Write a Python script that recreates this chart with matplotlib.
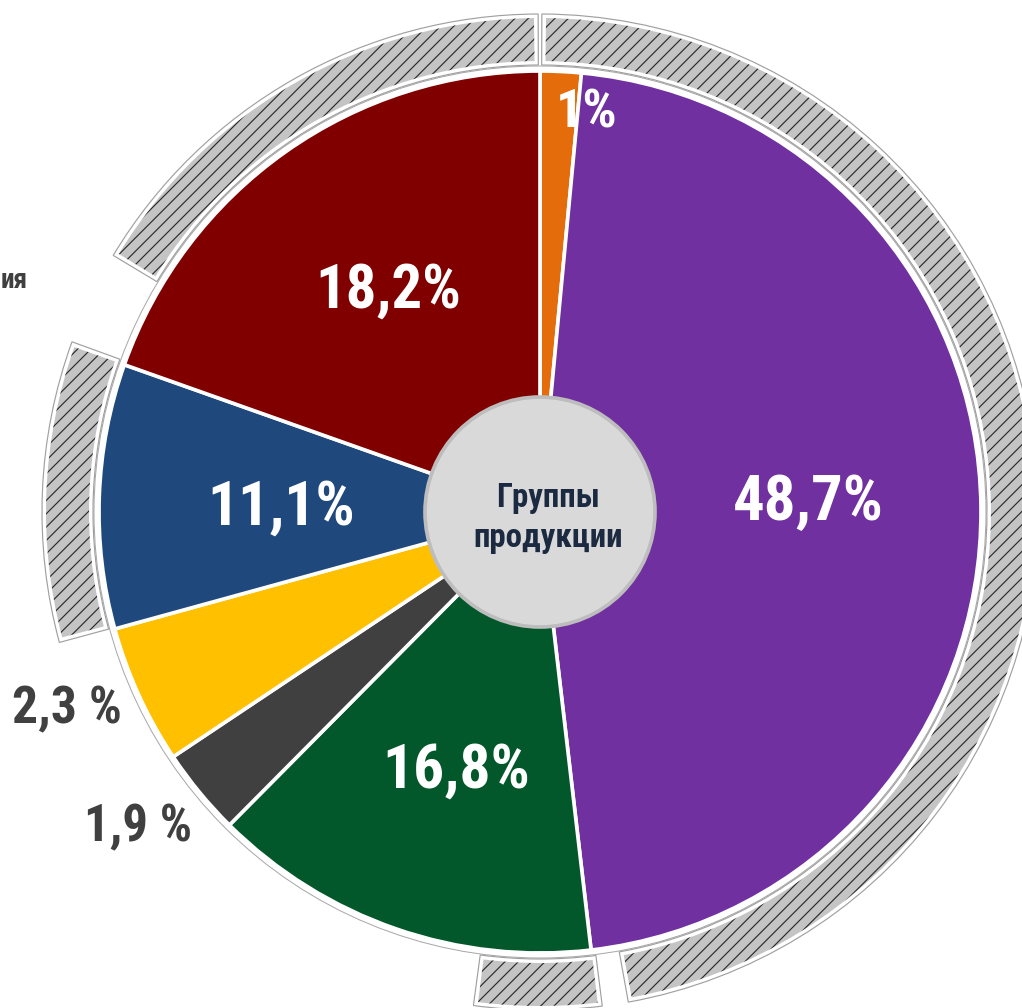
import matplotlib
matplotlib.use("Agg")
import matplotlib.pyplot as plt
from matplotlib.patches import Wedge, Circle
from matplotlib import font_manager as fm
import numpy as np

# ---- data (clockwise from 12 o'clock) ----
shares = [1.5, 46.7, 14.3, 3.2, 5.1, 9.7, 19.6]
share_labels = ["1%", "48,7%", "16,8%", "1,9 %", "2,3 %", "11,1%", "18,2%"]
colors = ["#E46C0A", "#7030A0", "#03582B", "#404040", "#FFC000", "#1F497D", "#800000"]

# outer hatched ring segments, degrees clockwise from 12 o'clock
ring_start = [0.7, 173.3, 255.3, 301.5]
ring_end = [169.3, 187.2, 289.5, 359.3]

center_text = "Группы\nпродукции"
cut_label = "ия"

# pick a narrow face if one is installed, else an Arial-like one
available = {f.name for f in fm.fontManager.ttflist}
main_font = "Liberation Sans"
for cand in ["Liberation Sans Narrow", "Arial Narrow", "DejaVu Sans Condensed",
             "Roboto Condensed", "Open Sans Condensed"]:
    if cand in available:
        main_font = cand
        break
FONT = [main_font, "DejaVu Sans"]
plt.rcParams["hatch.linewidth"] = 0.7

W, H = 1022, 1008
DPI = 120
fig = plt.figure(figsize=(W / DPI, H / DPI), dpi=DPI)
ax = fig.add_axes([0, 0, 1, 1])
renderer = fig.canvas.get_renderer()

def Y(y):
    return H - y

def fit_text(x, y, s, target_w, color, ha="center", **kw):
    t = ax.text(x, Y(y), s, ha=ha, va="center", fontsize=30, fontweight="bold",
                color=color, family=FONT, zorder=6, **kw)
    w = t.get_window_extent(renderer).width
    t.set_fontsize(30 * target_w / w)
    return t

cx, cy = 540, Y(512)
R = 441

# thin grey outline around the pie
ax.add_patch(Circle((cx, cy), 446, facecolor="none", edgecolor="#a8a8a8", lw=0.6, zorder=1))

wedges, _ = ax.pie(shares, colors=colors, startangle=90, counterclock=False,
                   radius=R, center=(cx, cy), frame=False,
                   wedgeprops=dict(edgecolor="white", linewidth=2.2))
for w in wedges:
    w.set_zorder(2)

# outer ring
R_in, R_out = 451, 494
pad = 4
rm = (R_in + R_out) / 2
d = np.degrees(pad / rm)
for a0, a1 in zip(ring_start, ring_end):
    t1, t2 = 90 - a1, 90 - a0
    ax.add_patch(Wedge((cx, cy), R_out + pad, t1 - d, t2 + d, width=R_out - R_in + 2 * pad,
                       facecolor="white", edgecolor="#a0a0a0", lw=0.7, zorder=3))
    ax.add_patch(Wedge((cx, cy), R_out, t1, t2, width=R_out - R_in,
                       facecolor="#c4c4c4", edgecolor="#2a2a2a", hatch="///", lw=0, zorder=4))

# centre disc
ax.add_patch(Circle((cx, cy), 115, facecolor="#d9d9d9", edgecolor="#bdbdbd", lw=2.2, zorder=5))
fit_text(548, 518, center_text, 150, "#1B2A41", linespacing=1.3)

# labels: (centre x, centre y, target width, colour)
label_pos = [(587, 113, 62, "white"), (808, 503, 151, "white"), (456, 771, 148, "white"),
             (138, 827, 108, "#404040"), (67, 709, 110, "#404040"), (281, 508, 148, "white"),
             (388, 291, 146, "white")]
for txt, (x, y, tw, c) in zip(share_labels, label_pos):
    fit_text(x, y, txt, tw, c)

fit_text(1, 280, cut_label, 27, "#404040", ha="left")

ax.set_xlim(0, W)
ax.set_ylim(0, H)
ax.set_aspect("equal")
ax.axis("off")
fig.savefig("out.png", dpi=DPI, facecolor="white")
